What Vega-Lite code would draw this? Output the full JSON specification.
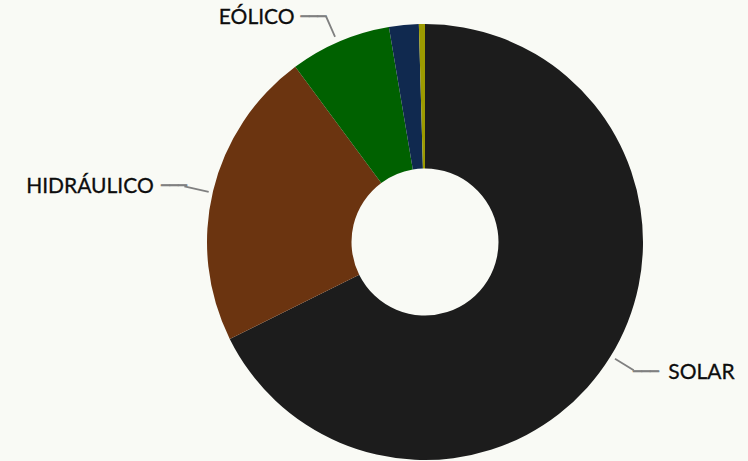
{
  "$schema": "https://vega.github.io/schema/vega-lite/v6.json",
  "width": 646,
  "height": 438,
  "padding": {"left": 102, "top": 23, "right": 0, "bottom": 0},
  "autosize": "none",
  "background": "#f9faf5",
  "config": {"view": {"stroke": null}},
  "datasets": {
    "slices": [
      {"fuente": "SOLAR", "valor": 67.7, "orden": 1},
      {"fuente": "HIDRÁULICO", "valor": 22.2, "orden": 2},
      {"fuente": "EÓLICO", "valor": 7.5, "orden": 3},
      {"fuente": "BIOMASA", "valor": 2.2, "orden": 4},
      {"fuente": "OTROS", "valor": 0.45, "orden": 5}
    ],
    "labels": [
      {"label": "SOLAR", "angulo": 115.35, "r": 306},
      {"label": "HIDRÁULICO", "angulo": 279.3, "r": 339.5},
      {"label": "EÓLICO", "angulo": 323.05, "r": 280}
    ],
    "leaders": [
      {"t1": 121.35, "t2": 121.8, "r1": 223, "r2": 245},
      {"t1": 282.8, "t2": 283.25, "r1": 222, "r2": 247},
      {"t1": 336.1, "t2": 336.55, "r1": 224, "r2": 247}
    ],
    "dashes": [
      {"angulo": 120.5, "r": 256.4},
      {"angulo": 282.6, "r": 257.2},
      {"angulo": 333.6, "r": 251}
    ]
  },
  "layer": [
    {
      "data": {"name": "slices"},
      "mark": {"type": "arc", "innerRadius": 73.5, "outerRadius": 218},
      "encoding": {
        "theta": {"field": "valor", "type": "quantitative", "stack": true},
        "order": {"field": "orden", "type": "quantitative"},
        "color": {
          "field": "fuente",
          "type": "nominal",
          "scale": {
            "domain": ["SOLAR", "HIDRÁULICO", "EÓLICO", "BIOMASA", "OTROS"],
            "range": ["#1c1c1c", "#6b3410", "#006100", "#10294f", "#9c9a00"]
          },
          "legend": null
        }
      }
    },
    {
      "data": {"name": "leaders"},
      "mark": {"type": "arc", "color": "#808080"},
      "encoding": {
        "theta": {"field": "t1", "type": "quantitative", "stack": null, "scale": {"type": "linear", "domain": [0, 360], "range": [0, 6.283185307179586]}},
        "theta2": {"field": "t2"},
        "radius": {"field": "r1", "type": "quantitative", "scale": {"type": "linear", "domain": [0, 400], "range": [0, 400]}},
        "radius2": {"field": "r2"}
      }
    },
    {
      "data": {"name": "dashes"},
      "mark": {"type": "text", "text": "───", "font": "DejaVu Sans Mono", "fontSize": 14, "color": "#808080", "align": "center", "baseline": "middle", "stroke": "#808080", "strokeWidth": 0.8},
      "encoding": {
        "theta": {"field": "angulo", "type": "quantitative", "stack": null, "scale": {"type": "linear", "domain": [0, 360], "range": [0, 6.283185307179586]}},
        "radius": {"field": "r", "type": "quantitative", "scale": {"type": "linear", "domain": [0, 400], "range": [0, 400]}}
      }
    },
    {
      "data": {"name": "labels"},
      "mark": {"type": "text", "font": "Lato", "fontSize": 21, "color": "#0d0d0d", "align": "center", "baseline": "middle", "stroke": "#0d0d0d", "strokeWidth": 0.3},
      "encoding": {
        "text": {"field": "label"},
        "theta": {"field": "angulo", "type": "quantitative", "stack": null, "scale": {"type": "linear", "domain": [0, 360], "range": [0, 6.283185307179586]}},
        "radius": {"field": "r", "type": "quantitative", "scale": {"type": "linear", "domain": [0, 400], "range": [0, 400]}}
      }
    }
  ],
  "resolve": {"scale": {"theta": "independent", "radius": "independent", "color": "independent"}}
}
